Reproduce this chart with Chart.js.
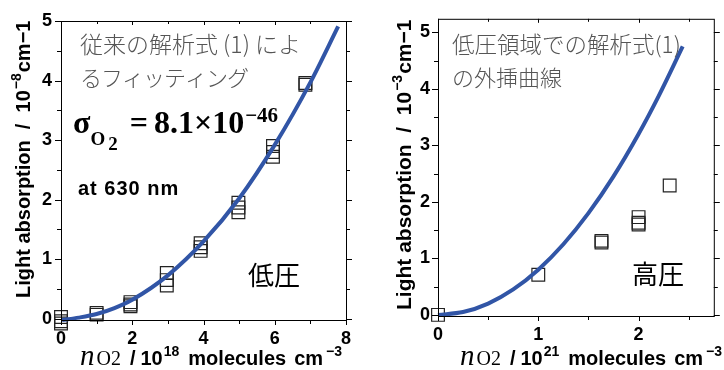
<!DOCTYPE html>
<html>
<head>
<meta charset="utf-8">
<script src="https://cdn.jsdelivr.net/npm/chart.js@4.4.1/dist/chart.umd.min.js"></script>
<style>
  html, body { margin: 0; padding: 0; background: #fff; }
  #wrap { position: relative; width: 724px; height: 370px; }
  canvas { position: absolute; top: 0; }
</style>
</head>
<body>
<div id="wrap">
  <canvas id="low" width="362" height="370" style="left:0"></canvas>
  <canvas id="high" width="362" height="370" style="left:362px"></canvas>
</div>
<script>
// low pressure panel (10^18 molecules cm-3, 10^-8 cm-1)
const lowConc = [0, 1, 1.95, 2.97, 3.92, 4.98, 5.95, 6.86];
const lowAbs = [[0.03, -0.04, -0.08], [0.1, 0.07], [0.28, 0.24, 0.21], [0.77, 0.65, 0.56],
                [1.27, 1.2, 1.14], [1.95, 1.87, 1.79], [2.9, 2.8, 2.72], [3.96, 3.93]];
const lowFitX = [0.03, 0.5, 1, 1.5, 2, 3, 4, 5, 6, 7, 7.78];
const lowFitY = [-0.02, 0.02, 0.08, 0.18, 0.32, 0.73, 1.3, 2.02, 2.92, 3.97, 4.91];
const lowXTicks = [0, 2, 4, 6, 8];
const lowXMinor = [1, 3, 5, 7];
const lowYTicks = [0, 1, 2, 3, 4, 5];
const lowYMinor = [0.5, 1.5, 2.5, 3.5, 4.5];

// high pressure panel (10^21 molecules cm-3, 10^-3 cm-1)
const highConc = [0, 1, 1.63, 2, 2.31];
const highAbs = [[0], [0.71], [1.31, 1.28], [1.73, 1.63, 1.6], [2.29]];
const highFitX = [0, 0.25, 0.5, 0.75, 1, 1.25, 1.5, 1.75, 2, 2.2, 2.44];
const highFitY = [0, 0.05, 0.2, 0.45, 0.8, 1.25, 1.8, 2.45, 3.2, 3.87, 4.75];
const highXTicks = [0, 1, 2];
const highXMinor = [0.5, 1.5, 2.5];
const highYTicks = [0, 1, 2, 3, 4, 5];
const highYMinor = [0.5, 1.5, 2.5, 3.5, 4.5];

const SANS = '"Liberation Sans", Arial, sans-serif';
const SERIF = '"Liberation Serif", "Times New Roman", serif';
const CJK = '"Noto Sans CJK JP", sans-serif';
const BLUE = '#3155a6';

function rich(ctx, segs, x, y, rot) {
  ctx.save();
  ctx.translate(x, y);
  ctx.rotate(rot || 0);
  ctx.textAlign = 'left';
  ctx.textBaseline = 'alphabetic';
  let cx = 0;
  for (const s of segs) {
    cx += s.gap || 0;
    ctx.font = s.font;
    ctx.fillStyle = s.color || '#000';
    ctx.letterSpacing = s.ls || '0px';
    ctx.fillText(s.t, cx, s.dy || 0);
    cx += ctx.measureText(s.t).width;
  }
  ctx.restore();
}

function label(ctx, t, x, y, font, color, ls) {
  ctx.save();
  ctx.font = font;
  ctx.fillStyle = color || '#000';
  ctx.letterSpacing = ls || '0px';
  ctx.textAlign = 'left';
  ctx.textBaseline = 'middle';
  ctx.fillText(t, x, y);
  ctx.restore();
}

// frame, ticks on four sides and all the free text
const framePlugin = {
  id: 'frame',
  afterDraw(chart, args, o) {
    const { ctx, chartArea: a, scales: { x, y } } = chart;
    ctx.save();
    ctx.strokeStyle = '#000';
    ctx.lineWidth = 1;
    ctx.strokeRect(a.left + 0.5, a.top + 0.5, a.right - a.left, a.bottom - a.top);
    ctx.beginPath();
    const xs = o.xTicks.map(v => [v, 5]).concat(o.xMinor.map(v => [v, 4]));
    xs.forEach(([v, len]) => {
      const px = Math.round(x.getPixelForValue(v)) + 0.5;
      ctx.moveTo(px, a.bottom); ctx.lineTo(px, a.bottom + len);
      ctx.moveTo(px, a.top); ctx.lineTo(px, a.top + len - 1);
    });
    const ys = o.yTicks.map(v => [v, 6]).concat(o.yMinor.map(v => [v, 4]));
    ys.forEach(([v, len]) => {
      const py = Math.round(y.getPixelForValue(v)) + 0.5;
      ctx.moveTo(a.left, py); ctx.lineTo(a.left - len, py);
      ctx.moveTo(a.right, py); ctx.lineTo(a.right + len, py);
    });
    ctx.stroke();
    ctx.restore();
    o.draw(ctx);
  }
};

function points(conc, abs) {
  const pts = [];
  conc.forEach((c, i) => abs[i].forEach(v => pts.push({ x: c, y: v })));
  return pts;
}

function makeChart(id, cfg) {
  const tickFont = { family: SANS, weight: 'bold', size: 18 };
  return new Chart(document.getElementById(id), {
    type: 'scatter',
    data: {
      datasets: [{
        data: cfg.fitX.map((v, i) => ({ x: v, y: cfg.fitY[i] })),
        showLine: true,
        borderColor: BLUE,
        borderWidth: 4,
        pointRadius: 0,
        cubicInterpolationMode: 'monotone',
        clip: false
      }, {
        data: points(cfg.conc, cfg.abs),
        pointStyle: 'rect',
        pointRadius: 9,
        borderColor: '#222',
        borderWidth: 1.2,
        backgroundColor: 'rgba(0,0,0,0)',
        clip: false
      }]
    },
    options: {
      responsive: false,
      animation: false,
      events: [],
      layout: { padding: cfg.padding },
      plugins: {
        legend: { display: false },
        tooltip: { enabled: false },
        frame: {
          xTicks: cfg.xTicks, xMinor: cfg.xMinor,
          yTicks: cfg.yTicks, yMinor: cfg.yMinor,
          draw: cfg.draw
        }
      },
      scales: {
        x: {
          type: 'linear', min: cfg.xMin, max: cfg.xMax,
          grid: { display: false, drawTicks: false }, border: { display: false },
          afterBuildTicks: s => { s.ticks = cfg.xTicks.map(v => ({ value: v })); },
          afterFit: s => { s.height = cfg.xH; },
          ticks: { padding: 8, color: '#000', font: tickFont }
        },
        y: {
          type: 'linear', min: cfg.yMin, max: cfg.yMax,
          grid: { display: false, drawTicks: false }, border: { display: false },
          afterBuildTicks: s => { s.ticks = cfg.yTicks.map(v => ({ value: v })); },
          afterFit: s => { s.width = cfg.yW; },
          ticks: { padding: cfg.yPad, color: '#000', font: tickFont }
        }
      }
    },
    plugins: [framePlugin]
  });
}

function yTitle(ctx, exp, x, y, size) {
  rich(ctx, [
    { t: 'Light absorption  /  10', font: `bold ${size}px ${SANS}` },
    { t: exp, font: `bold 14px ${SANS}`, dy: -9, gap: 1 },
    { t: 'cm\u22121', font: `bold ${size}px ${SANS}`, gap: 1 }
  ], x, y, -Math.PI / 2);
}

function xTitle(ctx, exp, x, y) {
  rich(ctx, [
    { t: 'n', font: `italic 29px ${SERIF}` },
    { t: 'O2', font: `20px ${SERIF}`, gap: 2 },
    { t: '/', font: `bold 20px ${SANS}`, gap: 9 },
    { t: '10', font: `bold 20px ${SANS}`, gap: 5 },
    { t: exp, font: `bold 14px ${SANS}`, dy: -9, gap: 1 },
    { t: 'molecules', font: `bold 20px ${SANS}`, gap: 9 },
    { t: 'cm', font: `bold 20px ${SANS}`, gap: 8 },
    { t: '\u22123', font: `bold 14px ${SANS}`, dy: -9, gap: 3 }
  ], x, y);
}

makeChart('low', {
  conc: lowConc, abs: lowAbs, fitX: lowFitX, fitY: lowFitY,
  xTicks: lowXTicks, xMinor: lowXMinor, yTicks: lowYTicks, yMinor: lowYMinor,
  xMin: 0, xMax: 8, yMin: -0.02, yMax: 5,
  padding: { top: 21, right: 16, left: 0, bottom: 0 }, xH: 50, yW: 61, yPad: 9,
  draw(ctx) {
    yTitle(ctx, '\u22128', 30, 298, 20);
    xTitle(ctx, '18', 80, 365);
    label(ctx, '従来の解析式 (1) によ', 80, 44, `300 23px ${CJK}`, '#555');
    label(ctx, 'るフィッティング', 80, 78, `300 22px ${CJK}`, '#555', '-1px');
    rich(ctx, [
      { t: '\u03c3', font: `bold 32px ${SERIF}` },
      { t: 'O', font: `bold 19px ${SERIF}`, dy: 12, gap: 0 },
      { t: '2', font: `bold 19px ${SERIF}`, dy: 17, gap: 3 },
      { t: '=', font: `bold 32px ${SERIF}`, gap: 12 },
      { t: '8.1\u00d710', font: `bold 32px ${SERIF}`, gap: 6 },
      { t: '\u221246', font: `bold 21px ${SERIF}`, dy: -11, gap: 1 }
    ], 73, 133);
    label(ctx, 'at 630 nm', 78, 189, `bold 20px ${SANS}`, '#000', '1px');
    label(ctx, '低圧', 248, 275, `26px ${CJK}`, '#000');
  }
});

makeChart('high', {
  conc: highConc, abs: highAbs, fitX: highFitX, fitY: highFitY,
  xTicks: highXTicks, xMinor: highXMinor, yTicks: highYTicks, yMinor: highYMinor,
  xMin: 0, xMax: 2.75, yMin: -0.02, yMax: 5.24,
  padding: { top: 16, right: 2, left: 0, bottom: 0 }, xH: 54, yW: 76, yPad: 8,
  draw(ctx) {
    yTitle(ctx, '\u22123', 49, 310, 21);
    xTitle(ctx, '21', 98, 365);
    label(ctx, '低圧領域での解析式(1)', 90, 44, `300 22.5px ${CJK}`, '#555');
    label(ctx, 'の外挿曲線', 90, 78, `300 22px ${CJK}`, '#555');
    label(ctx, '高圧', 270, 274, `26px ${CJK}`, '#000');
  }
});
</script>
</body>
</html>
